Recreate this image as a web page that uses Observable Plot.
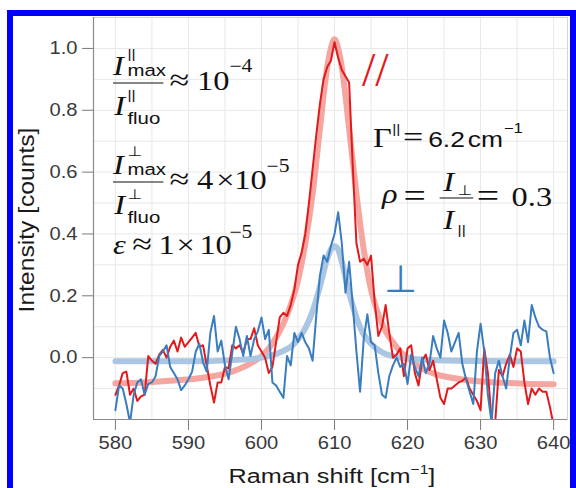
<!DOCTYPE html>
<html><head><meta charset="utf-8">
<script src="https://cdn.jsdelivr.net/npm/d3@7"></script>
<script src="https://cdn.jsdelivr.net/npm/@observablehq/plot@0.6"></script>
<style>
body{margin:0;background:#fff;}
#wrap{position:relative;width:576px;height:488px;overflow:hidden;background:#fff;}
#wrap svg{position:absolute;left:0;top:0;}
#border{position:absolute;left:7px;top:10px;right:0;bottom:-30px;border:6px solid #0000fe;pointer-events:none;}
</style></head><body><div id="wrap"><div id="border"></div></div>
<script>
// ---- data ----
const shiftStart = 580, shiftStep = 0.5;
// parallel polarisation, counts (580 → 640 cm-1, every 0.5)
const parallelCounts = [
  -0.12,-0.09,-0.05,-0.045,-0.12,-0.10,-0.14,-0.125,-0.12,0.005,
  -0.01,-0.02,0.01,0.025,0.00,0.035,0.055,0.02,0.065,0.035,
  0.05,0.065,0.08,0.035,0.04,-0.025,-0.09,-0.145,-0.08,-0.08,
  -0.03,-0.035,0.04,0.03,0.04,0.015,0.06,0.06,0.095,0.04,
  0.02,0.00,-0.05,-0.03,0.05,0.13,0.145,0.135,0.17,0.22,
  0.30,0.34,0.40,0.50,0.61,0.72,0.82,0.90,0.94,0.96,
  1.02,0.97,0.93,0.91,0.89,0.62,0.37,0.31,0.32,0.30,
  0.33,0.18,0.07,0.10,0.17,0.08,0.00,0.01,0.03,-0.06,
  0.03,0.04,-0.05,-0.09,-0.01,0.01,-0.04,-0.01,-0.07,-0.13,
  -0.15,-0.10,-0.10,-0.09,-0.08,-0.075,-0.065,-0.10,-0.12,-0.14,
  -0.17,0.03,-0.05,-0.20,-0.21,-0.04,-0.06,-0.02,0.01,-0.03,
  0.03,0.02,-0.08,-0.15,-0.10,-0.12,-0.10,-0.11,-0.11,-0.16,
  -0.22
];
// perpendicular polarisation
const perpCounts = [
  -0.17,-0.09,-0.10,-0.15,-0.21,-0.12,-0.08,-0.07,-0.12,-0.085,
  -0.08,-0.06,0.005,0.02,0.04,-0.03,-0.05,-0.07,-0.105,-0.09,
  -0.07,-0.045,0.02,0.045,-0.015,-0.045,0.08,0.135,0.02,0.055,
  -0.025,-0.07,0.015,0.10,0.06,0.005,0.07,0.005,0.06,0.085,
  0.13,0.06,0.09,-0.08,-0.09,-0.11,-0.13,0.005,-0.025,0.08,
  0.05,0.08,0.05,0.03,-0.01,0.135,0.265,0.33,0.31,0.36,
  0.40,0.47,0.37,0.21,0.31,0.17,0.02,-0.11,0.06,0.14,
  0.05,0.04,-0.05,-0.12,-0.13,-0.06,-0.025,0.00,-0.03,-0.02,
  -0.085,0.01,-0.03,-0.06,0.00,-0.05,-0.02,0.07,0.03,0.00,
  0.12,0.08,0.02,0.05,0.08,-0.02,-0.07,-0.11,-0.15,0.02,
  0.11,0.02,-0.12,-0.21,-0.05,-0.01,-0.06,-0.10,0.00,0.08,
  0.09,0.04,0.12,0.05,0.17,0.13,0.10,0.09,0.085,0.00,
  -0.05
];
// fitted curves
const parallelFitShift  = [580,584,588,592,596,598,600,601,602,603,604,605,606,607,608,609,609.5,610,610.5,611,612,613,614,615,616,617,618,619,620,622,624,626,628,632,636,640];
const parallelFitCounts = [-0.083,-0.08,-0.074,-0.065,-0.045,-0.025,0.005,0.03,0.065,0.11,0.17,0.25,0.37,0.53,0.74,0.94,1.0,1.03,1.0,0.94,0.74,0.53,0.35,0.22,0.14,0.085,0.05,0.02,0.0,-0.035,-0.055,-0.065,-0.072,-0.08,-0.084,-0.086];
const perpFitShift  = [580,590,596,600,602,603,604,605,606,607,608,609,609.5,610,610.5,611,612,613,614,615,616,617,618,620,624,630,640];
const perpFitCounts = [-0.012,-0.012,-0.008,0.0,0.012,0.022,0.035,0.06,0.095,0.15,0.23,0.32,0.35,0.36,0.35,0.31,0.21,0.13,0.075,0.045,0.025,0.012,0.005,-0.003,-0.008,-0.011,-0.012];
// axes
const xTicks = [580,590,600,610,620,630,640];
const yTicks = [0,0.2,0.4,0.6,0.8,1.0];
const xGrid = [580,585,590,595,600,605,610,615,620,625,630,635,640];
const yGrid = [-0.1,0,0.1,0.2,0.3,0.4,0.5,0.6,0.7,0.8,0.9,1.0];
const xLabel = "Raman shift [cm", xLabelSup = "\u22121";
const yLabel = "Intensity [counts]";

// ---- build tables ----
const par = parallelCounts.map((v,i)=>({shift: shiftStart + i*shiftStep, v}));
const perp = perpCounts.map((v,i)=>({shift: shiftStart + i*shiftStep, v}));
const parFit = parallelFitShift.map((s,i)=>({shift:s, v: parallelFitCounts[i]}));
const perpFit = perpFitShift.map((s,i)=>({shift:s, v: perpFitCounts[i]}));

const RED = "#e31a1c", BLUE = "#3a7dbf";
const S = 1.2; // horizontal glyph stretch of the original

const svg = Plot.plot({
  width: 576, height: 488,
  marginLeft: 93, marginRight: 9, marginTop: 17, marginBottom: 69,
  x: {domain: [577, 641.9], ticks: xTicks, tickSize: 11, tickPadding: 6, label: null, tickFormat: d => String(d)},
  y: {domain: [-0.2, 1.1], ticks: yTicks, tickSize: 11, tickPadding: 5, label: null, tickFormat: d => d.toFixed(1)},
  style: {fontFamily: "'Liberation Sans', Arial, sans-serif", fontSize: "18px", color: "#7a7a7a", background: "white", overflow: "visible"},
  marks: [
    Plot.ruleX(xGrid, {stroke: "#e8e8e8", strokeWidth: 1}),
    Plot.ruleY(yGrid, {stroke: "#e8e8e8", strokeWidth: 1}),
    Plot.frame({stroke: "#d4d4d4"}),
    Plot.ruleX([577], {stroke: "#8a8a8a", strokeWidth: 1.2}),
    Plot.ruleY([-0.2], {stroke: "#8a8a8a", strokeWidth: 1.2}),
    Plot.line(parFit, {x: "shift", y: "v", stroke: "#f5a6a1", strokeWidth: 6, curve: "monotone-x", clip: true}),
    Plot.line(perpFit, {x: "shift", y: "v", stroke: "#abc6e2", strokeWidth: 6, curve: "monotone-x", clip: true}),
    Plot.line(par, {x: "shift", y: "v", stroke: RED, strokeWidth: 2, clip: true}),
    Plot.line(perp, {x: "shift", y: "v", stroke: BLUE, strokeWidth: 2, clip: true})
  ]
});
const wrap = document.getElementById("wrap");
wrap.insertBefore(svg, document.getElementById("border"));

// stretch tick labels horizontally about their anchor
svg.querySelectorAll("text").forEach(tx => {
  const bb = tx.getBBox();
  const host = tx.closest("[text-anchor]");
  const anchor = tx.getAttribute("text-anchor") || (host ? host.getAttribute("text-anchor") : "start");
  const ax = anchor === "end" ? bb.x + bb.width : anchor === "middle" ? bb.x + bb.width/2 : bb.x;
  const ex = tx.getAttribute("transform") || "";
  tx.setAttribute("transform", `${ex} translate(${ax},0) scale(1.12,1) translate(${-ax},0)`);
  tx.setAttribute("fill", "#3a3a3a");
});

const root = d3.select(svg);
const SERIF = "'Liberation Serif', 'DejaVu Serif', serif";
const SANS = "'Liberation Sans', Arial, sans-serif";
const SYM = "'DejaVu Sans', sans-serif";
function txt(g, x, y, s, o = {}) {
  return g.append("text").attr("x", x).attr("y", y)
    .attr("font-family", o.f || SERIF).attr("font-size", o.s || 27)
    .attr("font-style", o.i ? "italic" : null)
    .attr("fill", o.c || "#111").attr("text-anchor", o.a || "start").text(s);
}
function bar(g, x1, x2, y) {
  g.append("line").attr("x1", x1).attr("x2", x2).attr("y1", y).attr("y2", y)
    .attr("stroke", "#111").attr("stroke-width", 1.2);
}

// axis titles
const xt = root.append("text").attr("transform", `translate(332,483) scale(${S},1)`)
  .attr("text-anchor", "middle").attr("font-family", SANS).attr("font-size", 21).attr("fill", "#1a1a1a");
xt.append("tspan").text(xLabel);
xt.append("tspan").attr("dy", -9).attr("font-size", 13).text(xLabelSup);
xt.append("tspan").attr("dy", 9).text("]");
root.append("text").attr("transform", `translate(34,220) rotate(-90) scale(1.12,1)`)
  .attr("text-anchor", "middle").attr("font-family", SANS).attr("font-size", 22).attr("fill", "#1a1a1a").text(yLabel);

// fraction 1
const g1 = root.append("g").attr("transform", `translate(113,0) scale(${S},1)`);
txt(g1, 0, 75, "I", {i: true});
txt(g1, 12, 58, "||", {f: SANS, s: 13});
txt(g1, 12, 76, "max", {f: SANS, s: 17});
bar(g1, 0, 42, 83);
txt(g1, 1, 115, "I", {i: true});
txt(g1, 12, 99, "||", {f: SANS, s: 13});
txt(g1, 12, 124, "fluo", {f: SANS, s: 17});
txt(g1, 47, 90, "\u2248", {s: 30});
txt(g1, 70, 90, "10");
txt(g1, 97, 72, "\u22124", {s: 18});

// fraction 2
const g2 = root.append("g").attr("transform", `translate(113,99) scale(${S},1)`);
txt(g2, 0, 75, "I", {i: true});
txt(g2, 12, 57, "\u22A5", {f: SYM, s: 14});
txt(g2, 12, 76, "max", {f: SANS, s: 17});
bar(g2, 0, 42, 83);
txt(g2, 1, 115, "I", {i: true});
txt(g2, 12, 100, "\u22A5", {f: SYM, s: 14});
txt(g2, 12, 124, "fluo", {f: SANS, s: 17});
txt(g2, 47, 90, "\u2248", {s: 30});
txt(g2, 70, 90, "4");
txt(g2, 86, 90, "\u00D7");
txt(g2, 101, 90, "10");
txt(g2, 128, 73, "\u22125", {s: 18});

// epsilon
const g3 = root.append("g").attr("transform", `translate(113,0) scale(${S},1)`);
txt(g3, 0, 254, "\u03B5", {i: true});
txt(g3, 16, 254, "\u2248", {s: 30});
txt(g3, 38, 254, "1");
txt(g3, 53, 254, "\u00D7");
txt(g3, 72, 254, "10");
txt(g3, 97, 238, "\u22125", {s: 18});

// Gamma
const g4 = root.append("g").attr("transform", `translate(373,0) scale(${S},1)`);
txt(g4, 0, 147, "\u0393");
txt(g4, 16, 133, "||", {f: SANS, s: 13});
txt(g4, 25, 147, "=", {s: 30});
txt(g4, 46, 147, "6.2", {f: SANS, s: 22});
txt(g4, 79, 147, "cm", {f: SANS, s: 22});
txt(g4, 109, 133, "\u22121", {f: SANS, s: 14});

// rho
const g5 = root.append("g").attr("transform", `translate(382,0) scale(${S},1)`);
txt(g5, 0, 203, "\u03C1", {i: true});
txt(g5, 18, 207, "=", {s: 33});
bar(g5, 48, 76, 198);
txt(g5, 51, 191, "I", {i: true});
txt(g5, 63, 195, "\u22A5", {f: SYM, s: 14});
txt(g5, 51, 229, "I", {i: true});
txt(g5, 63, 234, "||", {f: SANS, s: 13});
txt(g5, 79, 207, "=", {s: 33});
txt(g5, 108, 206, "0.3");

// series labels
txt(root, 362, 86, "//", {f: SERIF, s: 48, c: RED});
txt(root, 384, 292, "\u22A5", {f: SYM, s: 38, c: BLUE});
</script></body></html>
